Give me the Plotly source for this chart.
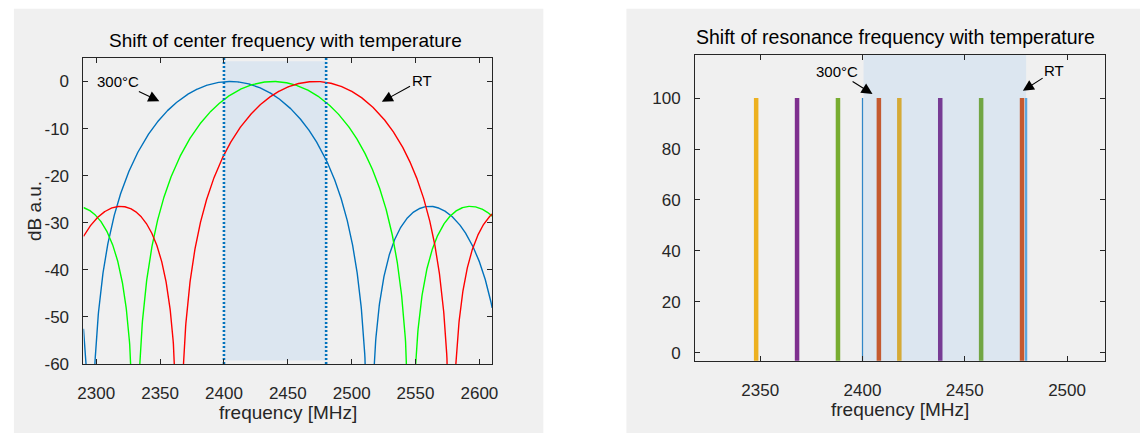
import numpy as np
import plotly.graph_objects as go

# ---------------- data ----------------
# Left: filter responses (sinc^2 shape, dB) - peak centre and first-null offset of each curve
center_freqs_mhz = [2404.8, 2438.6, 2471.5]      # blue (300°C), green, red (RT)
null_offsets_mhz = [109.2, 107.9, 106.6]
curve_colors = ["#0072BD", "#00FF00", "#FF0000"]
band_edges_mhz = [2400, 2480]

left_xticks = [2300, 2350, 2400, 2450, 2500, 2550, 2600]
left_yticks = [0, -10, -20, -30, -40, -50, -60]
left_yticklabels = ["0", "-10", "-20", "-30", "-40", "-50", "-60"]

# Right: resonance lines (frequency, level, colour, width)
resonance_freqs_mhz = [2348, 2368, 2388, 2400, 2408, 2418, 2438, 2458, 2478, 2480]
resonance_levels = [100, 100, 100, 100, 100, 100, 100, 100, 100, 100]
resonance_colors = ["#EDB120", "#7E2F8E", "#77AC30", "#2F86C8", "#C45A30",
                    "#D5AA36", "#773B94", "#71A644", "#C45A30", "#5AA6DE"]
resonance_widths = [4.5, 4.5, 4.5, 1.3, 4.5, 4.5, 4.5, 4.5, 4.5, 2.2]

right_xticks = [2350, 2400, 2450, 2500]
right_yticks = [0, 20, 40, 60, 80, 100]

W, H = 1146, 443
FONT = "Liberation Sans, Arial, Helvetica, sans-serif"
TXT = "#262626"
L_XR, L_YR = [2290, 2610], [-60, 5]
R_XR, R_YR = [2318.1, 2518.4], [-3.07, 116.9]

fig = go.Figure()

# ---------------- left panel curves ----------------
freq = np.arange(2290.0, 2610.001, 0.2)
for fc, w, col in zip(center_freqs_mhz, null_offsets_mhz, curve_colors):
    s = np.abs(np.sinc((freq - fc) / w))
    db = 40 * np.log10(np.maximum(s, 1e-8))
    fig.add_trace(go.Scatter(x=freq, y=db, mode="lines",
                             line=dict(color=col, width=1.4),
                             xaxis="x", yaxis="y", showlegend=False, hoverinfo="skip"))

# dotted band-edge markers
for fe in band_edges_mhz:
    fig.add_trace(go.Scatter(x=[fe, fe], y=[-60, 5], mode="lines",
                             line=dict(color="#0072BD", width=2.6, dash="2px,2px"),
                             xaxis="x", yaxis="y", showlegend=False, hoverinfo="skip"))

# ---------------- right panel lines ----------------
for f, lvl, col, lw in zip(resonance_freqs_mhz, resonance_levels, resonance_colors, resonance_widths):
    fig.add_trace(go.Scatter(x=[f, f], y=[-5, lvl], mode="lines",
                             line=dict(color=col, width=lw),
                             xaxis="x2", yaxis="y2", showlegend=False, hoverinfo="skip"))

# invisible traces so that the tick-only overlay axes are drawn
for xa, ya, xr, yr in [("x3", "y3", L_XR, L_YR), ("x4", "y4", R_XR, R_YR)]:
    fig.add_trace(go.Scatter(x=[xr[0]], y=[yr[0]], mode="markers", marker=dict(opacity=0),
                             xaxis=xa, yaxis=ya, showlegend=False, hoverinfo="skip"))

# ---------------- shapes ----------------
shapes = [
    # grey figure panels
    dict(type="rect", xref="paper", yref="paper", x0=8 / W, x1=543 / W, y0=0, y1=1 - 9 / H,
         fillcolor="#F0F0F0", line=dict(width=0), layer="below"),
    dict(type="rect", xref="paper", yref="paper", x0=627 / W, x1=1.0, y0=0, y1=1 - 9 / H,
         fillcolor="#F0F0F0", line=dict(width=0), layer="below"),
    # left band shading
    dict(type="rect", xref="x", yref="y", x0=band_edges_mhz[0], x1=band_edges_mhz[1],
         y0=-59.3, y1=4.3, fillcolor="#DCE6F0", line=dict(width=0), layer="below"),
    # right band shading
    dict(type="rect", xref="x2", yref="y2 domain", x0=band_edges_mhz[0] + 0.5, x1=band_edges_mhz[1],
         y0=0, y1=1, fillcolor="#DCE6F0", line=dict(width=0), layer="below"),
]

# main axes: labels only (transparent outside ticks used as label offset)
label_axis = dict(showgrid=False, zeroline=False, showline=True, linecolor=TXT, linewidth=1,
                  mirror=True, ticks="outside", tickwidth=1, tickcolor="rgba(0,0,0,0)",
                  tickfont=dict(family=FONT, size=17, color=TXT))
# overlay axes: visible inside ticks on all four sides, no labels
tick_axis = dict(showgrid=False, zeroline=False, showline=False, mirror="ticks",
                 ticks="inside", ticklen=5, tickwidth=1, tickcolor=TXT, showticklabels=False)

ann_font = dict(family=FONT, size=15, color="#000000")
arrow_kw = dict(showarrow=True, arrowhead=2, arrowsize=2.0, arrowwidth=1.1, arrowcolor="#000000",
                font=ann_font)
annotations = [
    # titles
    dict(text="Shift of center frequency with temperature", xref="paper", yref="paper",
         x=282 / W, y=1 - 41.7 / H, xanchor="center", yanchor="middle", showarrow=False,
         font=dict(family=FONT, size=19, color="#000000")),
    dict(text="Shift of resonance frequency with temperature", xref="paper", yref="paper",
         x=899 / W, y=1 - 38.3 / H, xanchor="center", yanchor="middle", showarrow=False,
         font=dict(family=FONT, size=19.5, color="#000000")),
    # axis titles
    dict(text="frequency [MHz]", xref="paper", yref="paper", x=284.8 / W, y=1 - 422 / H,
         xanchor="center", yanchor="middle", showarrow=False,
         font=dict(family=FONT, size=19, color=TXT)),
    dict(text="frequency [MHz]", xref="paper", yref="paper", x=903.3 / W, y=1 - 419 / H,
         xanchor="center", yanchor="middle", showarrow=False,
         font=dict(family=FONT, size=19, color=TXT)),
    dict(text="dB a.u.", xref="paper", yref="paper", x=29.6 / W, y=1 - 215.7 / H,
         xanchor="center", yanchor="middle", showarrow=False, textangle=-90,
         font=dict(family=FONT, size=19, color=TXT)),
    # left arrows
    dict(text="300°C", xref="x", yref="y", x=2349.4, y=-4.2, axref="x", ayref="y",
         ax=2317, ay=0, **arrow_kw),
    dict(text="RT", xref="x", yref="y", x=2523.6, y=-4.3, axref="x", ayref="y",
         ax=2554.7, ay=0.3, **arrow_kw),
    # right arrows
    dict(text="300°C", xref="x2", yref="y2", x=2404.9, y=101.6, axref="x2", ayref="y2",
         ax=2387.3, ay=110.4, **arrow_kw),
    dict(text="RT", xref="x2", yref="y2", x=2478.4, y=102.9, axref="x2", ayref="y2",
         ax=2493.7, ay=110.7, **arrow_kw),
]

fig.update_layout(
    width=W, height=H, margin=dict(l=0, r=0, t=0, b=0),
    paper_bgcolor="#FFFFFF", plot_bgcolor="#FFFFFF",
    showlegend=False,
    xaxis=dict(domain=[78.3 / W, 491.3 / W], range=L_XR, tickvals=left_xticks,
               anchor="y", ticklen=14, **label_axis),
    yaxis=dict(domain=[1 - 372.3 / H, 1 - 59.3 / H], range=L_YR, tickvals=left_yticks,
               ticktext=left_yticklabels, anchor="x", ticklen=10, **label_axis),
    xaxis2=dict(domain=[696.3 / W, 1110.3 / W], range=R_XR, tickvals=right_xticks,
                anchor="y2", ticklen=14, **label_axis),
    yaxis2=dict(domain=[1 - 369 / H, 1 - 56.3 / H], range=R_YR, tickvals=right_yticks,
                anchor="x2", ticklen=10, **label_axis),
    xaxis3=dict(overlaying="x", anchor="y3", range=L_XR, tickvals=left_xticks, side="bottom", **tick_axis),
    yaxis3=dict(overlaying="y", anchor="x3", range=L_YR, tickvals=left_yticks, side="left", **tick_axis),
    xaxis4=dict(overlaying="x2", anchor="y4", range=R_XR, tickvals=right_xticks, side="bottom", **tick_axis),
    yaxis4=dict(overlaying="y2", anchor="x4", range=R_YR, tickvals=right_yticks, side="left", **tick_axis),
    shapes=shapes,
    annotations=annotations,
)

fig.write_html("out.html")
